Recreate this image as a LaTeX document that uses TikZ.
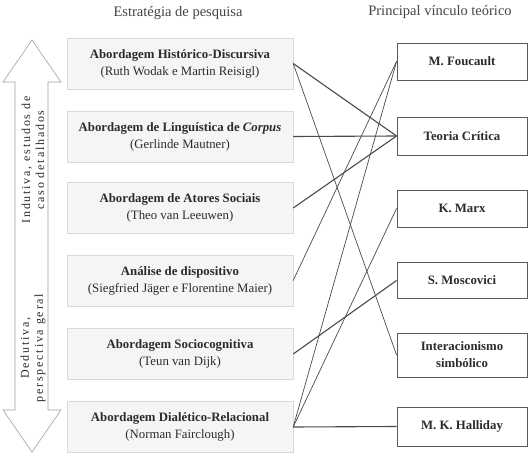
\documentclass[tikz,border=0pt]{standalone}
\usepackage{fontspec}
\setmainfont{Liberation Serif}
\newfontfamily\spacedfont[LetterSpace=15]{Liberation Serif}
\definecolor{txt}{HTML}{2B2B2B}
\definecolor{hdr}{HTML}{444444}
\definecolor{lnk}{HTML}{4A4A4A}
\tikzset{
  lbox/.style={draw=gray!30, fill=gray!8, minimum width=226pt, minimum height=51pt,
    align=center, inner sep=0pt, font=\fontsize{12.8}{17}\selectfont, text=txt},
  rbox/.style={draw=black!65, line width=0.9pt, fill=white, minimum width=130pt,
    align=center, inner sep=0pt, font=\fontsize{12.8}{17}\selectfont\bfseries, text=txt},
  hdrtext/.style={font=\fontsize{14.5}{17}\selectfont, text=hdr},
  arrtext/.style={rotate=90, align=center, font=\spacedfont\fontsize{12}{14}\selectfont, text=txt, inner sep=0pt},
  linkA/.style={draw=lnk, line width=1.1pt},
  linkB/.style={draw=lnk, line width=0.7pt},
}
\begin{document}
\begin{tikzpicture}[x=1pt,y=-1pt]
\path[use as bounding box, fill=white] (0,0) rectangle (532,457);

% headers
\node[hdrtext] (h1) at (178,13) {Estratégia de pesquisa};
\node[hdrtext] (h2) at (440,12) {Principal vínculo teórico};

% double arrow
\draw[draw=gray!75, line width=0.6pt, fill=white]
  (32,40) -- (61,82) -- (48,82) -- (48,410) -- (61,410) -- (32,452)
  -- (3,410) -- (15,410) -- (15,82) -- (3,82) -- cycle;
\node[arrtext] (ind) at (33,160) {Indutiva, estudos de\\caso detalhados};
\node[arrtext] (ded) at (33,348) {Dedutiva,\\perspectiva geral};

% left boxes
\node[lbox] (l1) at (180,63.5) {\textbf{Abordagem Histórico-Discursiva}\\(Ruth Wodak e Martin Reisigl)};
\node[lbox] (l2) at (180,136.5) {\textbf{Abordagem de Linguística de \textit{Corpus}}\\(Gerlinde Mautner)};
\node[lbox] (l3) at (180,208) {\textbf{Abordagem de Atores Sociais}\\(Theo van Leeuwen)};
\node[lbox] (l4) at (180,280.5) {\textbf{Análise de dispositivo}\\(Siegfried Jäger e Florentine Maier)};
\node[lbox] (l5) at (180,354) {\textbf{Abordagem Sociocognitiva}\\(Teun van Dijk)};
\node[lbox] (l6) at (180,427) {\textbf{Abordagem Dialético-Relacional}\\(Norman Fairclough)};

% right boxes
\node[rbox, minimum height=37pt] (r1) at (462,61.5) {M. Foucault};
\node[rbox, minimum height=38pt] (r2) at (462,136) {Teoria Crítica};
\node[rbox, minimum height=37pt] (r3) at (462,208.5) {K. Marx};
\node[rbox, minimum height=36pt] (r4) at (462,280.5) {S. Moscovici};
\node[rbox, minimum height=44pt] (r5) at (462,355) {Interacionismo\\simbólico};
\node[rbox, minimum height=39pt] (r6) at (462,426.5) {M. K. Halliday};

% connectors
\draw[linkA] (l1.east) -- (r2.west);
\draw[linkB] (l1.east) -- (r5.west);
\draw[linkA] (l2.east) -- (r2.west);
\draw[linkA] (l3.east) -- (r2.west);
\draw[linkB] (l4.east) -- (r1.west);
\draw[linkA] (l5.east) -- (r4.west);
\draw[linkB] (l6.east) -- (r1.west);
\draw[linkB] (l6.east) -- (r3.west);
\draw[linkA] (l6.east) -- (r6.west);
\end{tikzpicture}
\end{document}
